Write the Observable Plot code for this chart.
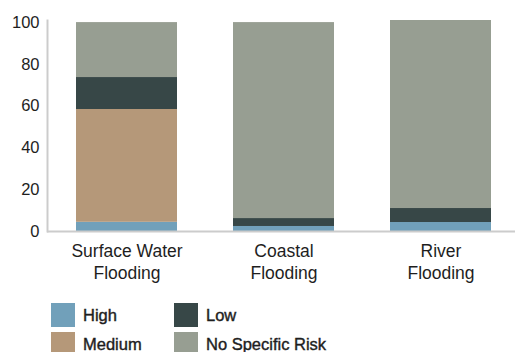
<!DOCTYPE html>
<html>
<head>
<meta charset="utf-8">
<script src="https://cdn.jsdelivr.net/npm/d3@7"></script>
<script src="https://cdn.jsdelivr.net/npm/@observablehq/plot@0.6"></script>
<style>
  html, body { margin: 0; padding: 0; background: #fff; overflow: hidden; }
  body { width: 515px; height: 352px; font-family: "Liberation Sans", Arial, sans-serif; color: #1e1e1e; }
  #legend { display: grid; grid-template-columns: 123px 160px; row-gap: 5px; margin-left: 51px; margin-top: 6px; }
  .item { display: flex; align-items: center; font-size: 16.5px; font-weight: 400; -webkit-text-stroke: 0.4px #1e1e1e; color: #1e1e1e; height: 24px; }
  .sw { width: 24px; height: 24px; margin-right: 8px; flex: none; }
</style>
</head>
<body>
<div id="chart"></div>
<div id="legend"></div>
<script>
const categories = ["Surface Water\nFlooding", "Coastal\nFlooding", "River\nFlooding"];
const seriesNames = ["High", "Medium", "Low", "No Specific Risk"];
const seriesColors = ["#71a0ba", "#b59879", "#374747", "#979e92"];
const high = [4.4, 2.4, 4.3];
const medium = [54.0, 0, 0];
const low = [15.3, 3.8, 6.7];
const noSpecificRisk = [26.3, 93.8, 90.0];
const yTicks = [0, 20, 40, 60, 80, 100];

const seriesValues = [high, medium, low, noSpecificRisk];
const data = [];
seriesNames.forEach((s, si) => {
  categories.forEach((c, ci) => data.push({category: c, series: s, value: seriesValues[si][ci]}));
});

const chart = Plot.plot({
  width: 515,
  height: 297,
  marginLeft: 47,
  marginRight: 0,
  marginTop: 20,
  marginBottom: 66,
  style: {fontFamily: "'Liberation Sans', Arial, sans-serif", color: "#1e1e1e", background: "#fff"},
  x: {domain: categories, paddingInner: 0.3587, paddingOuter: 0.165, align: 0.54, label: null},
  y: {domain: [0, 101], label: null},
  color: {domain: seriesNames, range: seriesColors},
  marks: [
    Plot.barY(data, {x: "category", y: "value", fill: "series", order: seriesNames}),
    Plot.frame({anchor: "left", stroke: "#cccccc", strokeWidth: 2}),
    Plot.ruleY([0], {stroke: "#cccccc", strokeWidth: 2}),
    Plot.axisY({ticks: yTicks, tickSize: 0, tickPadding: 8, fontSize: 16.5, label: null}),
    Plot.axisX({tickSize: 0, tickPadding: 10, fontSize: 17.5, lineHeight: 1.25, label: null})
  ]
});
document.getElementById("chart").appendChild(chart);

const legend = document.getElementById("legend");
const order = [0, 2, 1, 3];
order.forEach(i => {
  const item = document.createElement("div");
  item.className = "item";
  const sw = document.createElement("span");
  sw.className = "sw";
  sw.style.background = seriesColors[i];
  item.appendChild(sw);
  item.appendChild(document.createTextNode(seriesNames[i]));
  legend.appendChild(item);
});
</script>
</body>
</html>
